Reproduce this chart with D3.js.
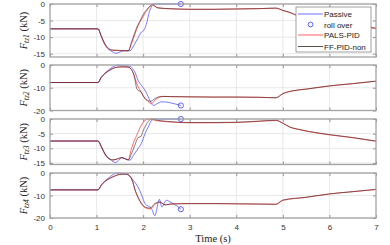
<!DOCTYPE html>
<html>
<head>
<meta charset="utf-8">
<script src="https://cdn.jsdelivr.net/npm/d3@7"></script>
<style>
  body { margin: 0; background: #fff; }
  svg { display: block; }
  .tick text { font-family: "Liberation Sans", Arial, sans-serif; font-size: 8px; fill: #333; }
</style>
</head>
<body>
<div id="chart"></div>
<script>
// time ticks, shared by all four panels
const timeTicks = [0, 1, 2, 3, 4, 5, 6, 7];
const panelNames = ["1", "2", "3", "4"];
const yTicks = [[0, -5, -10, -15], [0, -10, -20], [0, -5, -10, -15], [0, -10, -20]];
const yLimits = [[-16, 0], [-20, 0], [-15.5, 0], [-20, 0]];

// [time (s), force (kN)]
const tz1Passive = [[0,-7.5],[1.03,-7.5],[1.1,-9.8],[1.18,-12.3],[1.27,-13.8],[1.35,-14.5],[1.42,-14.9],[1.5,-14.5],[1.6,-14.1],[1.72,-14.1],[1.8,-12.5],[1.88,-10.5],[1.95,-8.7],[2.02,-7.8],[2.08,-5.5],[2.13,-2.5],[2.18,-0.8],[2.22,0],[2.81,0]];
const tz1Pals = [[0,-7.5],[1.03,-7.5],[1.1,-9.8],[1.18,-12.3],[1.25,-13.5],[1.35,-14],[1.5,-14.1],[1.68,-14.2],[1.75,-12],[1.82,-9.2],[1.9,-6.3],[2.0,-3.8],[2.1,-1.5],[2.2,-0.3],[2.3,-1.1],[2.6,-1.5],[3,-1.6],[3.5,-1.6],[4,-1.5],[4.5,-1.4],[4.85,-1.3],[5.0,-2.0],[5.15,-2.6],[5.3,-3.5],[5.6,-4.3],[6,-5.3],[6.5,-6.4],[7,-7.4]];
const tz1Ff = [[0,-7.5],[1.03,-7.5],[1.1,-9.5],[1.18,-12],[1.25,-13.3],[1.35,-13.9],[1.5,-14],[1.68,-14.1],[1.75,-11.5],[1.82,-8.7],[1.88,-6.5],[1.93,-5.2],[2.0,-3.2],[2.11,-1.2],[2.2,-0.2],[2.32,-1.2],[2.6,-1.4],[3,-1.6],[3.5,-1.6],[4,-1.5],[4.5,-1.4],[4.85,-1.2],[5.0,-1.9],[5.15,-2.5],[5.3,-3.4],[5.6,-4.2],[6,-5.2],[6.5,-6.3],[7,-7.3]];

const tz2Passive = [[0,-7.7],[1.03,-7.7],[1.1,-5.5],[1.2,-3.2],[1.3,-1.5],[1.4,-0.3],[1.45,0],[1.55,-0.3],[1.65,-0.4],[1.72,-0.6],[1.78,-1.8],[1.82,-3],[1.86,-5],[1.89,-6.7],[1.96,-8.9],[2.04,-11.1],[2.11,-14],[2.17,-16.5],[2.22,-17.8],[2.29,-17.1],[2.4,-16.2],[2.5,-16.3],[2.6,-16.7],[2.7,-17.2],[2.81,-17.8]];
const tz2Pals = [[0,-7.7],[1.03,-7.7],[1.1,-5.3],[1.2,-3.3],[1.29,-2.1],[1.39,-1.2],[1.5,-0.9],[1.6,-0.9],[1.7,-1.1],[1.75,-2],[1.8,-4],[1.86,-8],[1.93,-11],[2.0,-13.5],[2.08,-15.5],[2.18,-17],[2.25,-15.5],[2.35,-14.2],[2.45,-13.8],[2.6,-13.9],[3,-14],[3.5,-14.1],[4,-14.1],[4.5,-14.2],[4.85,-14.4],[5.0,-12.6],[5.2,-11.4],[5.5,-10.6],[6,-9.2],[6.5,-8.2],[7,-7.1]];
const tz2Ff = [[0,-7.7],[1.03,-7.7],[1.1,-5.5],[1.2,-3.5],[1.29,-2.2],[1.39,-1.2],[1.5,-0.8],[1.6,-0.8],[1.7,-1],[1.75,-2.2],[1.79,-3.7],[1.83,-7],[1.86,-10.2],[1.9,-11.3],[1.95,-11.6],[2.0,-13.5],[2.04,-14.8],[2.1,-15.6],[2.15,-16],[2.2,-15.6],[2.25,-14.8],[2.32,-14.1],[2.4,-13.8],[2.6,-13.9],[3,-14],[3.5,-14.1],[4,-14.1],[4.5,-14.2],[4.85,-14.4],[5.0,-12.6],[5.2,-11.4],[5.5,-10.6],[6,-9.2],[6.5,-8.2],[7,-7.1]];

const tz3Passive = [[0,-7.5],[1.03,-7.5],[1.1,-9.5],[1.2,-12.3],[1.3,-13.8],[1.4,-14.8],[1.47,-14.2],[1.54,-13.2],[1.62,-13.6],[1.72,-14],[1.79,-12.4],[1.89,-10.1],[1.96,-8.4],[2.04,-5],[2.11,-2.7],[2.18,-0.5],[2.25,0],[2.81,0]];
const tz3Pals = [[0,-7.5],[1.03,-7.5],[1.1,-9.4],[1.14,-10.8],[1.24,-13.3],[1.35,-14],[1.45,-13.6],[1.54,-13.2],[1.62,-13.6],[1.68,-14],[1.75,-10],[1.86,-5.6],[1.96,-2.2],[2.04,-0.5],[2.12,0],[2.3,-0.6],[2.5,-0.9],[3,-1.3],[3.5,-1.3],[4,-1.2],[4.5,-0.8],[4.85,-0.5],[5.0,-1.5],[5.15,-2.8],[5.37,-3.7],[6,-5.4],[6.5,-6.4],[7,-7.6]];
const tz3Ff = [[0,-7.5],[1.03,-7.5],[1.1,-9.2],[1.14,-10.6],[1.24,-13.2],[1.35,-13.9],[1.45,-13.6],[1.54,-13.1],[1.62,-13.6],[1.68,-13.9],[1.75,-11.8],[1.82,-9],[1.86,-7.3],[1.89,-6.3],[1.95,-6],[2.0,-4],[2.04,-2.7],[2.11,-0.8],[2.2,0],[2.3,-0.4],[2.5,-0.8],[3,-1.2],[3.5,-1.2],[4,-1.1],[4.5,-0.7],[4.85,-0.4],[5.0,-1.4],[5.15,-2.7],[5.37,-3.6],[6,-5.3],[6.5,-6.3],[7,-7.5]];

const tz4Passive = [[0,-7.5],[1.03,-7.5],[1.1,-5.3],[1.2,-3.2],[1.3,-1.5],[1.43,0],[1.55,-0.2],[1.65,-0.6],[1.72,-1.5],[1.79,-3.3],[1.89,-6.2],[1.97,-9.9],[2.04,-13.6],[2.18,-15.8],[2.25,-19],[2.35,-11.7],[2.4,-15.1],[2.5,-12.1],[2.57,-12.8],[2.65,-13.6],[2.81,-16.1]];
const tz4Pals = [[0,-7.5],[1.03,-7.5],[1.1,-5.4],[1.14,-4.4],[1.29,-2.3],[1.43,-1],[1.55,-0.5],[1.65,-0.5],[1.72,-1.6],[1.78,-4.2],[1.82,-7.2],[1.89,-11],[1.97,-14],[2.04,-15.4],[2.15,-16],[2.25,-14],[2.36,-13],[2.47,-14.1],[2.6,-13.8],[3,-13.6],[3.5,-13.6],[4,-13.7],[4.5,-13.8],[4.85,-13.9],[5.0,-12.2],[5.5,-10.8],[6,-9.3],[6.5,-8.3],[7,-7.3]];
const tz4Ff = [[0,-7.5],[1.03,-7.5],[1.1,-5.6],[1.14,-4.6],[1.29,-2.4],[1.43,-1],[1.55,-0.5],[1.65,-0.5],[1.72,-1.5],[1.78,-4],[1.82,-7],[1.89,-10.7],[1.97,-13.6],[2.04,-15.1],[2.15,-15.6],[2.25,-13.6],[2.36,-12.9],[2.47,-14.2],[2.6,-13.8],[3,-13.6],[3.5,-13.6],[4,-13.7],[4.5,-13.8],[4.85,-13.9],[5.0,-12],[5.5,-10.8],[6,-9.3],[6.5,-8.3],[7,-7.3]];

const seriesNames = ["Passive", "roll over", "PALS-PID", "FF-PID-non"];
const panelData = [
  [tz1Passive, tz1Pals, tz1Ff],
  [tz2Passive, tz2Pals, tz2Ff],
  [tz3Passive, tz3Pals, tz3Ff],
  [tz4Passive, tz4Pals, tz4Ff]
];

const W = 390, H = 245;
const left = 50, right = 376;
const panelBox = [[4, 57], [65, 110.5], [119, 164.5], [173, 218]];
const colors = { passive: "#4d4dff", pals: "#ff3b3b", ff: "#3a2020" };
const serif = '"Liberation Serif", "Times New Roman", serif';
const plain = d => String(d); // hyphen minus like the original

const svg = d3.select("#chart").append("svg")
  .attr("width", W).attr("height", H);

const x = d3.scaleLinear().domain([0, 7]).range([left, right]);
const line = d3.line().curve(d3.curveMonotoneX);

panelData.forEach((series, i) => {
  const [top, bottom] = panelBox[i];
  const y = d3.scaleLinear().domain(yLimits[i]).range([bottom, top]);
  const g = svg.append("g");

  // grid
  g.append("g").selectAll("line").data(timeTicks.slice(1, -1)).join("line")
    .attr("x1", d => x(d)).attr("x2", d => x(d))
    .attr("y1", top).attr("y2", bottom)
    .attr("stroke", "#e3e3e3").attr("stroke-width", 0.8);
  g.append("g").selectAll("line").data(yTicks[i]).join("line")
    .attr("x1", left).attr("x2", right)
    .attr("y1", d => y(d)).attr("y2", d => y(d))
    .attr("stroke", "#e3e3e3").attr("stroke-width", 0.8);

  line.x(d => x(d[0])).y(d => y(d[1]));
  const clip = "clip" + i;
  svg.append("clipPath").attr("id", clip).append("rect")
    .attr("x", left).attr("y", top - 1).attr("width", right - left).attr("height", bottom - top + 2);
  const lines = g.append("g").attr("clip-path", `url(#${clip})`);
  lines.append("path").attr("d", line(series[0]))
    .attr("fill", "none").attr("stroke", colors.passive).attr("stroke-width", 0.75);
  lines.append("path").attr("d", line(series[1]))
    .attr("fill", "none").attr("stroke", colors.pals).attr("stroke-width", 0.75);
  lines.append("path").attr("d", line(series[2]))
    .attr("fill", "none").attr("stroke", colors.ff).attr("stroke-width", 0.7).attr("opacity", 0.85);

  // roll over marker = last passive point
  const last = series[0][series[0].length - 1];
  g.append("circle").attr("cx", x(last[0])).attr("cy", y(last[1])).attr("r", 2.6)
    .attr("fill", "none").attr("stroke", colors.passive).attr("stroke-width", 0.9);

  // axes
  g.append("g").attr("transform", `translate(${left},0)`)
    .call(d3.axisLeft(y).tickValues(yTicks[i]).tickFormat(plain).tickSize(-3).tickPadding(5));
  g.append("g").attr("transform", `translate(${right},0)`)
    .call(d3.axisRight(y).tickValues(yTicks[i]).tickSize(-3).tickFormat(""));
  const xAxis = g.append("g").attr("transform", `translate(0,${bottom})`)
    .call(d3.axisBottom(x).tickValues(timeTicks).tickFormat(plain).tickSize(-3).tickPadding(6));
  g.append("g").attr("transform", `translate(0,${top})`)
    .call(d3.axisTop(x).tickValues(timeTicks).tickSize(-3).tickFormat(""));
  if (i < 3) xAxis.selectAll("text").remove();
  g.selectAll(".domain").remove();
  g.selectAll(".tick line").attr("stroke", "#555").attr("stroke-width", 0.6);

  g.append("rect").attr("x", left).attr("y", top)
    .attr("width", right - left).attr("height", bottom - top)
    .attr("fill", "none").attr("stroke", "#a3a3a3").attr("stroke-width", 1.3);

  // y label
  const lbl = svg.append("text")
    .attr("transform", `translate(27,${(top + bottom) / 2}) rotate(-90)`)
    .attr("text-anchor", "middle")
    .attr("font-family", serif).attr("font-size", 10.5).attr("fill", "#222");
  lbl.append("tspan").attr("font-style", "italic").text("F");
  lbl.append("tspan").attr("font-style", "italic").attr("font-size", 7.5).attr("dy", 2).text("tz" + panelNames[i]);
  lbl.append("tspan").attr("dy", -2).text("\u00a0(kN)");
});

svg.append("text")
  .attr("x", (left + right) / 2).attr("y", 242)
  .attr("text-anchor", "middle")
  .attr("font-family", serif).attr("font-size", 10.5).attr("fill", "#222")
  .text("Time (s)");

// legend
const leg = svg.append("g").attr("transform", "translate(296,7)");
leg.append("rect").attr("width", 75).attr("height", 45)
  .attr("fill", "#fff").attr("stroke", "#8a8a8a").attr("stroke-width", 0.8);
const legRows = [7, 17.5, 28, 39.5];
const legStyle = [
  { color: colors.passive, kind: "line" },
  { color: colors.passive, kind: "circle" },
  { color: colors.pals, kind: "line" },
  { color: colors.ff, kind: "line" }
];
seriesNames.forEach((name, k) => {
  const yy = legRows[k];
  if (legStyle[k].kind === "line") {
    leg.append("line").attr("x1", 2).attr("x2", 27).attr("y1", yy).attr("y2", yy)
      .attr("stroke", legStyle[k].color).attr("stroke-width", 0.8);
  } else {
    leg.append("circle").attr("cx", 14.5).attr("cy", yy).attr("r", 2.4)
      .attr("fill", "none").attr("stroke", legStyle[k].color).attr("stroke-width", 0.9);
  }
  leg.append("text").attr("x", 28).attr("y", yy + 3)
    .attr("font-family", '"Liberation Sans", Arial, sans-serif').attr("font-size", 8).attr("fill", "#222")
    .text(name);
});
</script>
</body>
</html>
